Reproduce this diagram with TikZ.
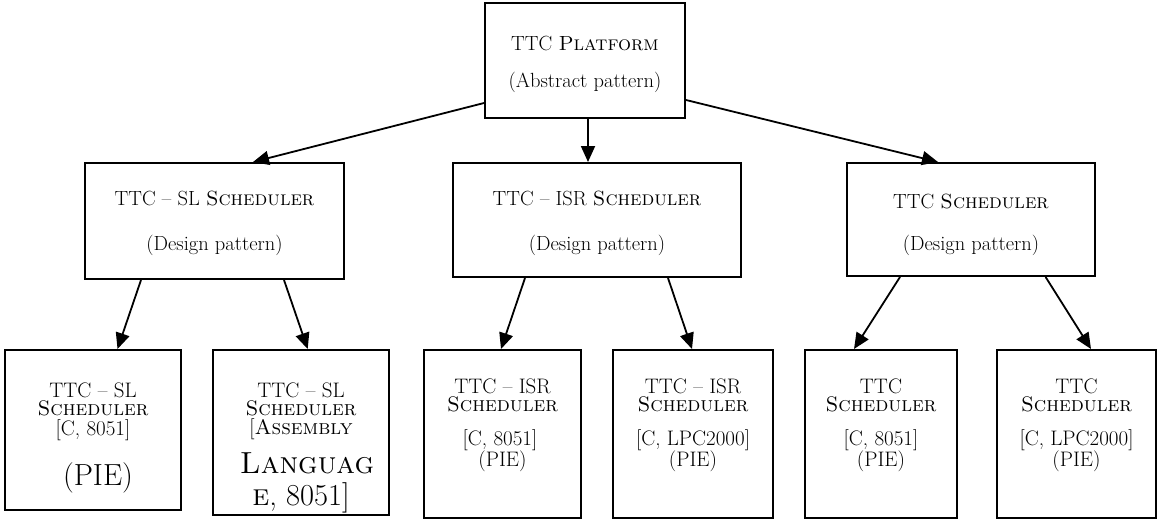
\documentclass[tikz,border=0pt]{standalone}
\usetikzlibrary{arrows.meta}
\newcommand\nf{\fontsize{20.5}{24}\selectfont}
\newcommand\botf{\fontsize{21}{24}\selectfont}
\newcommand\bigf{\fontsize{30.5}{34}\selectfont}
\begin{document}
\begin{tikzpicture}[x=1pt,y=-1pt,
  box/.style={draw,line width=2pt,inner sep=0pt,fill=white},
  txt/.style={inner sep=0pt,font=\nf},
  btxt/.style={inner sep=0pt,font=\botf,anchor=base,text height=12pt,text depth=3pt},
  bigtxt/.style={inner sep=0pt,font=\bigf,anchor=base,text height=18pt,text depth=6pt},
  arr/.style={line width=1.8pt,-{Triangle[length=16pt,width=14pt]}}]
\useasboundingbox (0,0) rectangle (1157,520);
% boxes
\node[box,minimum width=200pt,minimum height=115pt] (top) at (585,60.5) {};
\node[box,minimum width=259pt,minimum height=116pt] (sl) at (214.5,221) {};
\node[box,minimum width=288pt,minimum height=114pt] (isr) at (597,220) {};
\node[box,minimum width=248pt,minimum height=113pt] (ttc) at (971,219.5) {};
\node[box,minimum width=176pt,minimum height=160pt] (b1) at (93,430) {};
\node[box,minimum width=176pt,minimum height=165pt] (b2) at (301,432.5) {};
\node[box,minimum width=157pt,minimum height=168pt] (b3) at (502.5,434) {};
\node[box,minimum width=160pt,minimum height=168pt] (b4) at (693,434) {};
\node[box,minimum width=152pt,minimum height=168pt] (b5) at (881,434) {};
\node[box,minimum width=159pt,minimum height=168pt] (b6) at (1076.5,434) {};
% texts
\node[txt] (t0a) at (585,43) {TTC \textsc{Platform}};
\node[txt] (t0b) at (585,82) {(Abstract pattern)};
\node[txt] (t1a) at (214.5,198) {TTC -- SL \textsc{Scheduler}};
\node[txt] (t1b) at (214.5,245) {(Design pattern)};
\node[txt] (t2a) at (597,198) {TTC -- ISR \textsc{Scheduler}};
\node[txt] (t2b) at (597,245) {(Design pattern)};
\node[txt] (t3a) at (971,201) {TTC \textsc{Scheduler}};
\node[txt] (t3b) at (971,245) {(Design pattern)};
% bottom 1
\node[btxt] (b1a) at (93,397) {TTC -- SL};
\node[btxt] (b1b) at (93,415) {\textsc{Scheduler}};
\node[btxt] (b1c) at (93,435) {[C, 8051]};
\node[bigtxt] (b1d) at (98,485.5) {(PIE)};
% bottom 2
\node[btxt] (b2a) at (301,397) {TTC -- SL};
\node[btxt] (b2b) at (301,415) {\textsc{Scheduler}};
\node[btxt] (b2c) at (301,434) {[\textsc{Assembly}};
\node[bigtxt] (b2d) at (307,473) {\textsc{Languag}};
\node[bigtxt] (b2e) at (301,505) {\textsc{e}, 8051]};
% bottom 3
\node[btxt] (b3a) at (502.5,393) {TTC -- ISR};
\node[btxt] (b3b) at (502.5,411) {\textsc{Scheduler}};
\node[btxt] (b3c) at (500,445) {[C, 8051]};
\node[btxt] (b3d) at (502.5,466) {(PIE)};
% bottom 4
\node[btxt] (b4a) at (693,393) {TTC -- ISR};
\node[btxt] (b4b) at (693,411) {\textsc{Scheduler}};
\node[btxt] (b4c) at (693,445) {[C, LPC2000]};
\node[btxt] (b4d) at (693,466) {(PIE)};
% bottom 5
\node[btxt] (b5a) at (881,393) {TTC};
\node[btxt] (b5b) at (881,411) {\textsc{Scheduler}};
\node[btxt] (b5c) at (881,445) {[C, 8051]};
\node[btxt] (b5d) at (881,466) {(PIE)};
% bottom 6
\node[btxt] (b6a) at (1076.5,393) {TTC};
\node[btxt] (b6b) at (1076.5,411) {\textsc{Scheduler}};
\node[btxt] (b6c) at (1076.5,445) {[C, LPC2000]};
\node[btxt] (b6d) at (1076.5,466) {(PIE)};
% arrows
\draw[arr] ([yshift=-42.5pt]top.west) -- ([xshift=38.5pt]sl.north);
\draw[arr] ([xshift=3pt]top.south) -- ([xshift=-9pt]isr.north);
\draw[arr] ([yshift=-39.5pt]top.east) -- ([xshift=-33pt]ttc.north);
\draw[arr] ([xshift=-73.5pt]sl.south) -- ([xshift=24.5pt]b1.north);
\draw[arr] ([xshift=69.5pt]sl.south) -- ([xshift=6.7pt]b2.north);
\draw[arr] ([xshift=-72pt]isr.south) -- ([xshift=-1.5pt]b3.north);
\draw[arr] ([xshift=71pt]isr.south) -- ([xshift=-1pt]b4.north);
\draw[arr] ([xshift=-71pt]ttc.south) -- ([xshift=-27pt]b5.north);
\draw[arr] ([xshift=74.6pt]ttc.south) -- ([xshift=14.5pt]b6.north);
\end{tikzpicture}
\end{document}
